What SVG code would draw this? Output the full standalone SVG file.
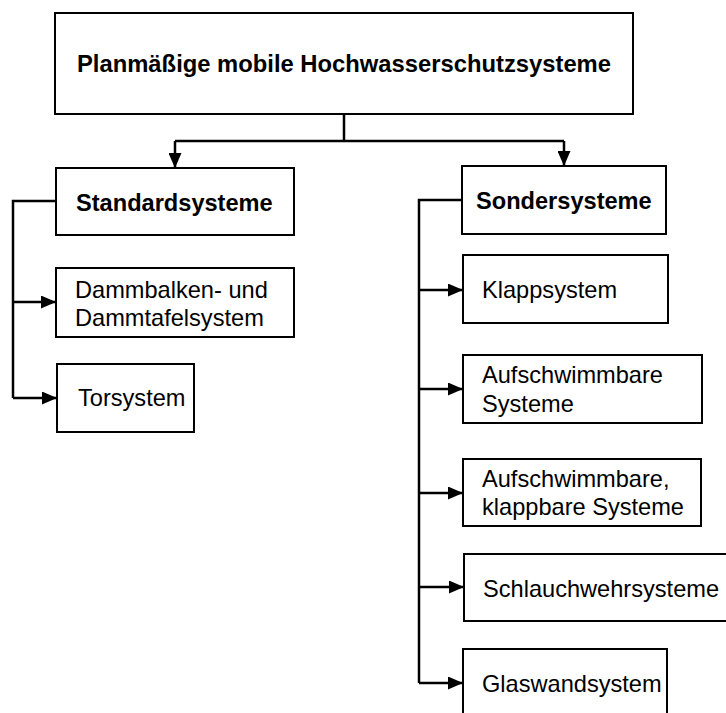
<svg xmlns="http://www.w3.org/2000/svg" width="726" height="713" viewBox="0 0 726 713">
  <defs>
    <marker id="arrow" markerUnits="userSpaceOnUse" markerWidth="15" markerHeight="13" refX="15" refY="6.5" orient="auto">
      <path d="M0,0 L15,6.5 L0,13 Z" fill="#000"/>
    </marker>
    <style>
      .box { fill: #fff; stroke: #000; stroke-width: 2; }
      .lbl { font-family: "Liberation Sans", Arial, sans-serif; font-size: 23.6px; fill: #000; }
      .bold { font-weight: bold; }
      .wire { fill: none; stroke: #000; stroke-width: 2.5; }
      .arr { marker-end: url(#arrow); }
    </style>
  </defs>
  <rect width="726" height="713" fill="#fff"/>

  <!-- connectors -->
  <g id="connectors">
    <path class="wire" d="M344,114 V141 M175,141 H564"/>
    <path class="wire arr" d="M175,141 V168"/>
    <path class="wire arr" d="M564,141 V166"/>
    <!-- Standardsysteme branch -->
    <path class="wire" d="M56,201 H13 V398"/>
    <path class="wire arr" d="M13,302 H56"/>
    <path class="wire arr" d="M13,398 H57"/>
    <!-- Sondersysteme branch -->
    <path class="wire" d="M462,200 H419 V683"/>
    <path class="wire arr" d="M419,290 H463"/>
    <path class="wire arr" d="M419,389 H463"/>
    <path class="wire arr" d="M419,493 H463"/>
    <path class="wire arr" d="M419,587 H464"/>
    <path class="wire arr" d="M419,683 H463"/>
  </g>

  <g id="root">
    <rect class="box" x="55" y="13" width="578" height="101"/>
    <text class="lbl bold" x="77" y="72" textLength="534" lengthAdjust="spacingAndGlyphs">Planmäßige mobile Hochwasserschutzsysteme</text>
  </g>

  <g id="standardsysteme">
    <rect class="box" x="56" y="168" width="238" height="67"/>
    <text class="lbl bold" x="76" y="211">Standardsysteme</text>
  </g>

  <g id="sondersysteme">
    <rect class="box" x="462" y="166" width="204" height="68"/>
    <text class="lbl bold" x="476" y="209">Sondersysteme</text>
  </g>

  <g id="dammbalken">
    <rect class="box" x="56" y="268" width="238" height="69"/>
    <text class="lbl" x="75" y="298">Dammbalken- und</text>
    <text class="lbl" x="75" y="326">Dammtafelsystem</text>
  </g>

  <g id="torsystem">
    <rect class="box" x="57" y="364" width="137" height="68"/>
    <text class="lbl" x="78" y="406">Torsystem</text>
  </g>

  <g id="klappsystem">
    <rect class="box" x="463" y="255" width="205" height="68"/>
    <text class="lbl" x="482" y="298">Klappsystem</text>
  </g>

  <g id="aufschwimmbar">
    <rect class="box" x="463" y="355" width="239" height="68"/>
    <text class="lbl" x="482" y="383">Aufschwimmbare</text>
    <text class="lbl" x="482" y="412">Systeme</text>
  </g>

  <g id="aufschwimmbar-klappbar">
    <rect class="box" x="463" y="459" width="238" height="67"/>
    <text class="lbl" x="482" y="487">Aufschwimmbare,</text>
    <text class="lbl" x="482" y="515">klappbare Systeme</text>
  </g>

  <g id="schlauchwehr">
    <rect class="box" x="464" y="554" width="270" height="67"/>
    <text class="lbl" x="483" y="597">Schlauchwehrsysteme</text>
  </g>

  <g id="glaswand">
    <rect class="box" x="463" y="649" width="204" height="80"/>
    <text class="lbl" x="482" y="692">Glaswandsystem</text>
  </g>
</svg>
